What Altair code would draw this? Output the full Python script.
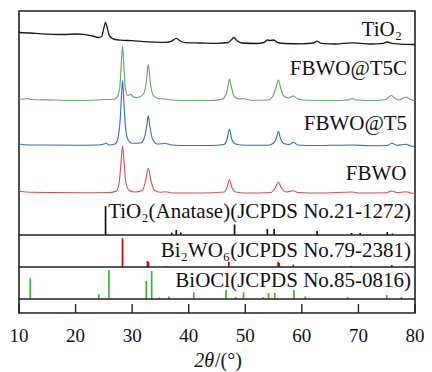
import altair as alt
import pandas as pd

# ---- measured XRD traces (2theta, intensity above own baseline) ----
tio2_x = [10, 12, 14, 16, 18, 20, 21.5, 23, 24, 24.6, 25.0, 25.3, 25.6, 26.0, 27, 28, 30, 32, 34, 36,
          37.0, 37.8, 38.5, 39.5, 42, 45, 47.0, 47.6, 48.0, 48.5, 49.5, 52, 53.3, 53.9, 54.4, 55.0, 55.7,
          57, 60, 62.0, 62.7, 63.4, 66, 68.8, 70.3, 72, 74.4, 75.1, 75.9, 78, 80]
tio2_y = [11.5, 11, 10.2, 9.7, 9.5, 10, 9.7, 8, 6.5, 7.5, 16, 21.7, 16, 8, 4.5, 3.8, 3.3, 2.3, 1.8, 1.6,
          2.8, 5.7, 3, 1.3, 1.0, 0.7, 1.5, 4.5, 6.5, 3.5, 1, 0.5, 1.5, 4, 3.5, 4, 1.5,
          0.5, 0.2, 1, 2.8, 0.7, 0, 1.2, 0.7, 0, 0.7, 2, 0.7, -0.3, -0.5]

t5c_x = [10, 11.6, 12, 16, 20, 24, 25.3, 26.5, 27.3, 27.8, 28.1, 28.3, 28.5, 28.8, 29.2, 29.8, 30.2, 31.0,
         32.0, 32.5, 32.85, 33.2, 33.7, 34.6, 35.7, 37, 40, 44, 46.0, 46.7, 47.0, 47.2, 47.5, 48.0, 49,
         49.8, 51, 54, 54.8, 55.4, 55.85, 56.2, 56.8, 57.6, 58.5, 59.3, 61, 65, 68.0, 68.9, 69.8, 73,
         74.8, 75.8, 76.6, 77.2, 78.4, 79.2, 80]
t5c_y = [1.2, 1.8, 1, 0.5, 0, 0.5, 1, 1, 3, 12.5, 38.5, 54.5, 38.5, 12.5, 5, 6.2, 3.5, 3,
         6.5, 18.5, 36.2, 18.5, 5.5, 2, 1.5, 0.5, 0, 0, 1.5, 7.5, 16.5, 21.5, 14.5, 4.5, 1.5,
         1.7, 0.2, 0.5, 3.5, 12.5, 20.5, 13.5, 4.5, 2.5, 4.5, 1.5, 0.2, 0, 0.5, 1.7, 0.5, 0,
         1, 5, 1.5, 0.5, 3.5, 1, -0.2]

t5_x = [10, 11, 14, 20, 24, 25.0, 25.4, 25.9, 27.0, 27.5, 27.9, 28.15, 28.3, 28.45, 28.7, 29.2, 30, 31.5,
        32.2, 32.6, 32.85, 33.1, 33.6, 34.5, 35.9, 37, 40, 44, 46.2, 46.8, 47.2, 47.6, 48.3, 50, 54,
        55.0, 55.5, 55.85, 56.2, 56.8, 57.8, 58.5, 59.3, 62, 68.9, 72, 75.1, 75.9, 76.8, 78.4, 79.3, 80]
t5_y = [1.5, 0.8, 0.5, 0.2, 0.5, 1.5, 2.2, 0.5, 1.5, 7.5, 27.5, 53.5, 65, 53.5, 27.5, 6.5, 2.2, 2.5,
        8.5, 20.5, 29.8, 20.5, 6.5, 1.5, 2, 0.5, 0, 0, 1, 6.5, 16.5, 6.5, 1.5, 0.2, 0.2,
        2.5, 7.5, 14.2, 7.5, 2, 1, 3.2, 0.5, 0, 0.5, -0.2, 0, 2.2, 0.2, 1.2, -0.5, -1.2]

fbwo_x = [10, 10.5, 12, 16, 22, 26, 27.2, 27.7, 28.0, 28.3, 28.6, 28.9, 29.5, 30.5, 31.8, 32.4, 32.85,
          33.3, 33.9, 35, 35.9, 37, 42, 46.3, 46.8, 47.2, 47.6, 48.3, 50, 54.5, 55.3, 55.85, 56.4, 57.2,
          58.5, 59.3, 63, 68.9, 70, 75, 75.9, 76.8, 78.4, 79.3, 80]
fbwo_y = [2.5, 1.5, 0.7, 0.5, 0.3, 0.5, 2, 10, 28, 47.3, 28, 10, 2.5, 1, 2.5, 13, 24.7,
          13, 3, 0.7, 1.3, 0, 0, 1, 6, 13.5, 6, 1, 0, 0.5, 5, 11, 5, 1,
          2.3, 0.5, 0, 1, 0, 0.3, 2, 0.3, 1.3, 0, -0.3]

series = ["TiO2", "FBWO@T5C", "FBWO@T5", "FBWO"]
offsets = [269, 212.5, 167.5, 120]
line_colors = ["#1a1a1a", "#5fa55f", "#2f6fbd", "#d65050"]
line_widths = [1.3, 1.1, 1.1, 1.1]

# ---- reference sticks (2theta, relative height) ----
anatase_pos = [25.3, 37.0, 37.8, 38.6, 48.1, 53.9, 55.1, 62.7, 68.8, 70.3, 75.1, 76.0]
anatase_h = [29, 2.5, 5, 2.5, 10.5, 6, 6, 4, 2, 2, 3, 1.5]
bwo_pos = [28.3, 32.7, 32.9, 36.0, 47.1, 55.8, 56.0, 58.5, 68.7, 75.9, 78.5]
bwo_h = [28.7, 6, 5, 1, 5.3, 5.3, 4, 2.5, 1, 2, 1]
biocl_pos = [12.0, 24.1, 25.9, 32.5, 33.45, 34.8, 36.5, 40.9, 46.6, 48.3, 49.7, 53.2, 54.1, 55.2,
             58.6, 60.6, 68.1, 75.0, 77.6]
biocl_h = [20.7, 4.7, 29, 18, 28, 1.5, 2.5, 6.7, 9, 2, 6.7, 2, 6, 6, 9, 2.5, 2, 4, 2]

phases = ["anatase", "bwo", "biocl"]
phase_base = [78, 46, 14]
stick_colors = ["#111111", "#d40000", "#33b833"]

tick_vals = [10, 20, 30, 40, 50, 60, 70, 80]

labels = ["TiO₂", "FBWO@T5C", "FBWO@T5", "FBWO",
          "TiO₂(Anatase)(JCPDS No.21-1272)", "Bi₂WO₆(JCPDS No.79-2381)", "BiOCl(JCPDS No.85-0816)"]
label_x = [77.7, 78.6, 78.6, 78.5, 79.3, 79.3, 79.3]
label_u = [277, 238, 183, 133.5, 95.5, 56.5, 26.5]

# ---- build chart ----
FONT = "Liberation Serif"
W, H = 396, 302
xs = alt.Scale(domain=[10, 80], nice=False, zero=False)
ys = alt.Scale(domain=[0, 302], nice=False, zero=False)

line_layers = []
for name, off, xv, yv, col, sw in zip(series, offsets, [tio2_x, t5c_x, t5_x, fbwo_x],
                                       [tio2_y, t5c_y, t5_y, fbwo_y], line_colors, line_widths):
    df = pd.DataFrame({"theta": xv, "u": [off + b for b in yv]})
    line_layers.append(
        alt.Chart(df).mark_line(strokeWidth=sw, color=col, interpolate="monotone").encode(
            x=alt.X("theta:Q", scale=xs, axis=None),
            y=alt.Y("u:Q", scale=ys, axis=None),
        )
    )

stick_layers = []
for ph, base, ps, hs, col in zip(phases, phase_base, [anatase_pos, bwo_pos, biocl_pos],
                                 [anatase_h, bwo_h, biocl_h], stick_colors):
    df = pd.DataFrame({"theta": ps, "base": [base] * len(ps), "top": [base + h for h in hs]})
    stick_layers.append(
        alt.Chart(df).mark_rule(strokeWidth=1.7, color=col).encode(
            x=alt.X("theta:Q", scale=xs),
            y=alt.Y("base:Q", scale=ys),
            y2="top:Q",
        )
    )

dividers = pd.DataFrame({"u": phase_base})
ticks = pd.DataFrame({"theta": tick_vals, "lab": [str(t) for t in tick_vals]})
lab_df = pd.DataFrame({"text": labels, "theta": label_x, "u": label_u})

div_layer = alt.Chart(dividers).mark_rule(color="#222222", strokeWidth=1.4).encode(
    y=alt.Y("u:Q", scale=ys)
)

tick_layer = alt.Chart(ticks).mark_rule(color="#222222", strokeWidth=1.4).encode(
    x=alt.X("theta:Q", scale=xs),
    y=alt.value(H),
    y2=alt.value(H - 9),
)

tick_text = alt.Chart(ticks).mark_text(font=FONT, fontSize=19, baseline="alphabetic", align="center",
                                       color="#111111").encode(
    x=alt.X("theta:Q", scale=xs),
    y=alt.value(331),
    text="lab:N",
)

label_layer = alt.Chart(lab_df).mark_text(font=FONT, fontSize=21, align="right", baseline="alphabetic",
                                          color="#111111").encode(
    x=alt.X("theta:Q", scale=xs),
    y=alt.Y("u:Q", scale=ys),
    text="text:N",
)

title_a = alt.Chart(pd.DataFrame({"t": ["2θ"]})).mark_text(
    font=FONT, fontSize=20, fontStyle="italic", align="right", baseline="alphabetic", color="#111111"
).encode(x=alt.value(W / 2 - 3), y=alt.value(356), text="t:N")
title_b = alt.Chart(pd.DataFrame({"t": ["/(°)"]})).mark_text(
    font=FONT, fontSize=20, align="left", baseline="alphabetic", color="#111111"
).encode(x=alt.value(W / 2 - 2), y=alt.value(356), text="t:N")

chart = alt.layer(*line_layers, *stick_layers, div_layer, tick_layer, tick_text, label_layer,
                  title_a, title_b).properties(
    width=W, height=H,
    autosize=alt.AutoSizeParams(type="none"),
    padding={"left": 11, "top": 3, "right": 9, "bottom": 58},
    background="white",
).configure_view(stroke="#222222", strokeWidth=1.6)

chart.save("out.html", embed_options={"renderer": "svg", "actions": False})
